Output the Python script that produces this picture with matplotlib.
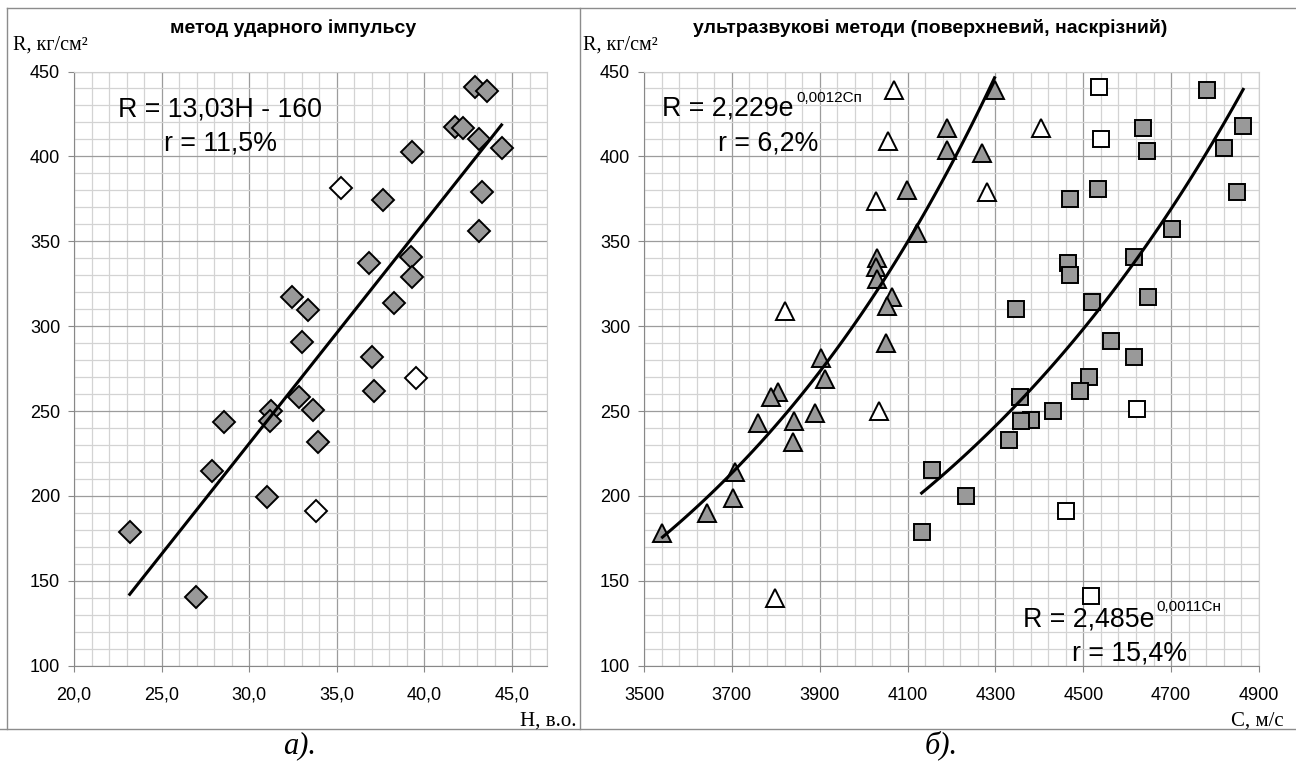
import matplotlib
matplotlib.use("Agg")
import matplotlib.pyplot as plt
import numpy as np
from matplotlib.ticker import MultipleLocator, FixedLocator, FuncFormatter
from matplotlib.lines import Line2D

# --- дані: метод ударного імпульсу (H, R) ---
h_used = [42.87, 43.58, 41.75, 42.20, 43.14, 44.40, 39.31, 37.62, 43.28, 43.12,
          39.21, 39.31, 36.86, 38.29, 32.42, 33.34, 33.03, 37.01, 37.11, 32.83,
          33.65, 31.26, 31.20, 28.55, 33.91, 27.86, 31.02, 23.18, 26.95]
r_used = [440.6, 438.6, 417.4, 416.5, 410.0, 404.7, 402.5, 374.3, 379.1, 356.2,
          340.9, 329.1, 337.0, 313.8, 317.0, 309.5, 290.8, 282.0, 262.0, 258.1,
          250.6, 250.2, 244.3, 243.3, 231.9, 214.7, 199.5, 178.6, 140.3]
h_out = [35.23, 39.51, 33.81]
r_out = [381.1, 269.3, 191.3]
lin_k, lin_b = 13.03, -160.0

# --- поверхневий метод (трикутники) ---
cp_used = [4099, 4122, 4031, 4029, 4031, 4064, 4054, 4052, 3903, 3913, 3806, 3790,
           3889, 3841, 3759, 3839, 3708, 3703, 3644, 3542, 4298, 4190, 4190, 4269]
rp_used = [380, 355, 340, 335, 328, 317, 312, 290, 281, 269, 261, 258,
           249, 244, 243, 232, 214, 199, 190, 178, 439, 417, 404, 402]
cp_out = [4068, 4056, 4028, 3820, 4035, 3799, 4404, 4281]
rp_out = [439, 409, 374, 309, 250, 140, 417, 379]
exp_p = (2.229, 0.001233)

# --- наскрізний метод (квадрати) ---
cn_used = [4782, 4635, 4864, 4644, 4821, 4533, 4470, 4849, 4703, 4616, 4466, 4470,
           4647, 4520, 4347, 4564, 4616, 4513, 4493, 4355, 4430, 4381, 4359, 4330,
           4156, 4232, 4132]
rn_used = [439, 417, 418, 403, 405, 381, 375, 379, 357, 341, 337, 330,
           317, 314, 310, 291, 282, 270, 262, 258, 250, 245, 244, 233,
           215, 200, 179]
cn_out = [4536, 4540, 4623, 4461, 4517]
rn_out = [441, 410, 251, 191, 141]
exp_n = (2.485, 0.001064)

W, H = 1296, 762
SANS = "Liberation Sans"
SERIF = "Liberation Serif"
GREY = "#999999"
EQ = 19.3


def fx(x):
    return x / W


def fy(y):
    return 1 - y / H


fig = plt.figure(figsize=(W / 100, H / 100), dpi=100)
axL = fig.add_axes([fx(74), fy(665.7), (547.1 - 74) / W, (665.7 - 71.5) / H])
axR = fig.add_axes([fx(644), fy(665.7), (1259 - 644) / W, (665.7 - 71.5) / H])


def style(ax, xlim, xmaj, xmin, fmt):
    ax.set_xlim(*xlim)
    ax.set_ylim(100, 450)
    ax.xaxis.set_major_locator(FixedLocator(np.arange(xlim[0], xlim[1] + 1e-6, xmaj)))
    ax.xaxis.set_minor_locator(FixedLocator(np.arange(xlim[0], xlim[1] + 1e-6, xmin)))
    ax.yaxis.set_major_locator(MultipleLocator(50))
    ax.yaxis.set_minor_locator(MultipleLocator(10))
    ax.xaxis.set_major_formatter(FuncFormatter(fmt))
    ax.grid(which="minor", color="#d3d3d3", lw=0.9)
    ax.grid(which="major", color="#9c9c9c", lw=0.9)
    ax.set_axisbelow(True)
    ax.tick_params(which="major", direction="out", length=4, color="#888888",
                   labelsize=13)
    ax.tick_params(axis="x", pad=11)
    ax.tick_params(axis="y", pad=6)
    ax.tick_params(which="minor", length=0)
    for s in ["left", "bottom"]:
        ax.spines[s].set_color("#888888")
    for s in ["top", "right"]:
        ax.spines[s].set_color("#cfcfcf")
    for lab in ax.get_xticklabels() + ax.get_yticklabels():
        lab.set_family(SANS)


style(axL, (20, 47), 5, 1, lambda v, _: f"{v:.1f}".replace(".", ","))
style(axR, (3500, 4900), 200, 40, lambda v, _: f"{v:.0f}")

# ліва діаграма
axL.plot(h_used, r_used, ls="none", marker="D", ms=10.8, mfc=GREY, mec="black",
         mew=1.4, zorder=3)
axL.plot(h_out, r_out, ls="none", marker="D", ms=10.8, mfc="white", mec="black",
         mew=1.4, zorder=3)
hh = np.array([min(h_used), max(h_used)])
axL.plot(hh, lin_k * hh + lin_b, color="black", lw=2.2, zorder=4)

# права діаграма
axR.plot(cp_used, rp_used, ls="none", marker="^", ms=12.8, mfc=GREY, mec="black",
         mew=1.4, zorder=3)
axR.plot(cp_out, rp_out, ls="none", marker="^", ms=12.8, mfc="white", mec="black",
         mew=1.4, zorder=3)
axR.plot(cn_used, rn_used, ls="none", marker="s", ms=11.5, mfc=GREY, mec="black",
         mew=1.4, zorder=3)
axR.plot(cn_out, rn_out, ls="none", marker="s", ms=11.5, mfc="white", mec="black",
         mew=1.4, zorder=3)
cc = np.linspace(min(cp_used), max(cp_used), 100)
axR.plot(cc, exp_p[0] * np.exp(exp_p[1] * cc), color="black", lw=2.2, zorder=4)
cc = np.linspace(min(cn_used), max(cn_used), 100)
axR.plot(cc, exp_n[0] * np.exp(exp_n[1] * cc), color="black", lw=2.2, zorder=4)

# рамки
frame = dict(color="#8c8c8c", lw=1.0, transform=fig.transFigure)
fig.add_artist(Line2D([fx(7), 1], [fy(8), fy(8)], **frame))
fig.add_artist(Line2D([0, 1], [fy(729), fy(729)], **frame))
fig.add_artist(Line2D([fx(7), fx(7)], [fy(8), fy(729)], **frame))
fig.add_artist(Line2D([fx(580), fx(580)], [fy(8), fy(729)], **frame))

# заголовки та підписи
fig.text(fx(170), fy(33), "метод ударного імпульсу", family=SANS,
         weight="bold", size=14)
fig.text(fx(693), fy(33), "ультразвукові методи (поверхневий, наскрізний)",
         family=SANS, weight="bold", size=14)
fig.text(fx(12.7), fy(49.3), "R, кг/см²", family=SERIF, size=14.5)
fig.text(fx(583.3), fy(49.3), "R, кг/см²", family=SERIF, size=14.5)
fig.text(fx(577), fy(726), "H, в.о.", family=SERIF, size=15, ha="right")
fig.text(fx(1284), fy(726), "C, м/с", family=SERIF, size=15, ha="right")
fig.text(fx(283), fy(753), "а).", family=SERIF, style="italic", size=22)
fig.text(fx(925), fy(753), "б).", family=SERIF, style="italic", size=22)

# рівняння
fig.text(fx(118), fy(116.5), "R = 13,03H - 160", family=SANS, size=EQ)
fig.text(fx(164.3), fy(151), "r = 11,5%", family=SANS, size=EQ)
fig.text(fx(661.7), fy(115.7), "R = 2,229e", family=SANS, size=EQ)
fig.text(fx(796.7), fy(101.7), "0,0012Cп", family=SANS, size=11)
fig.text(fx(718.3), fy(150), "r = 6,2%", family=SANS, size=EQ)
fig.text(fx(1023.3), fy(626), "R = 2,485e", family=SANS, size=EQ)
fig.text(fx(1156.7), fy(610.7), "0,0011Cн", family=SANS, size=11)
fig.text(fx(1071.7), fy(660.7), "r = 15,4%", family=SANS, size=EQ)

fig.savefig("out.png", dpi=100)
